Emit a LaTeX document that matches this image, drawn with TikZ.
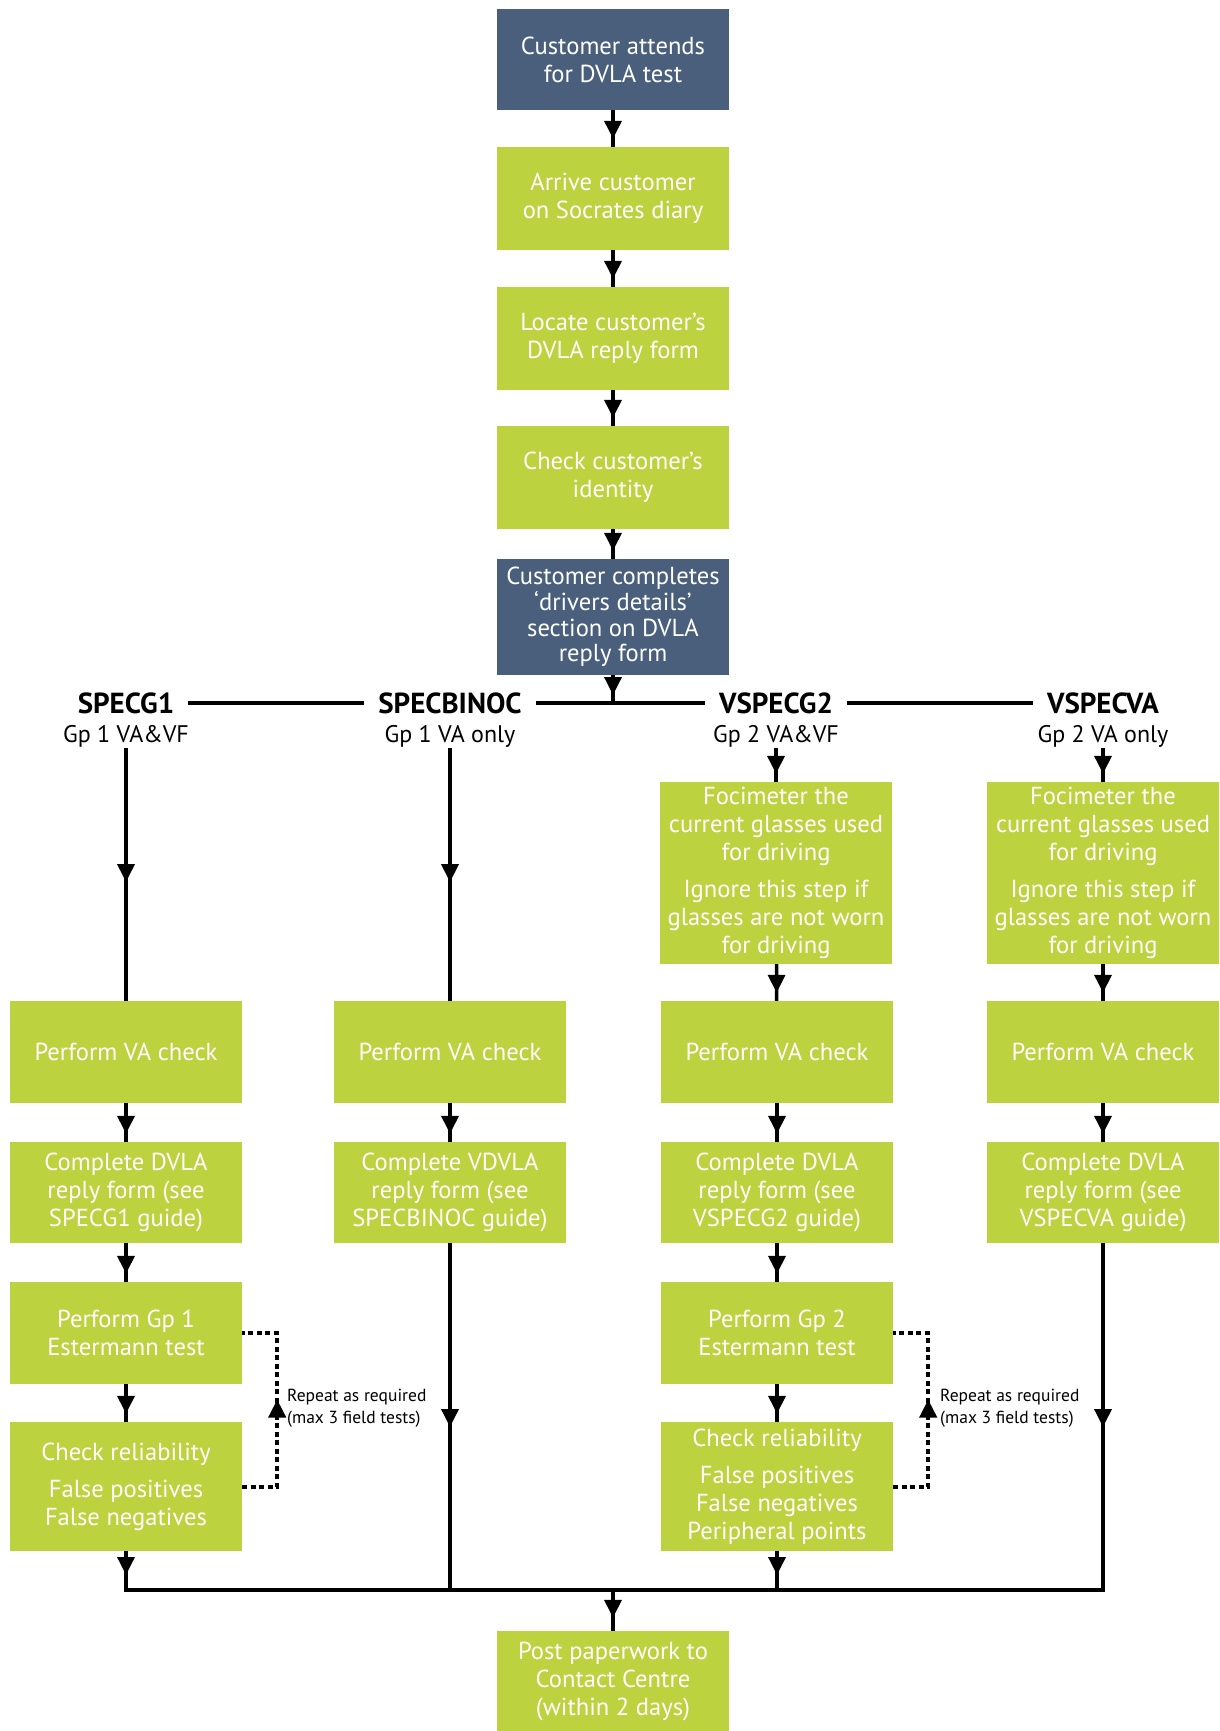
\documentclass[tikz,border=0pt]{standalone}
\usepackage{fontspec}
\setmainfont{PT Sans}
\usepackage{tikz}
\usetikzlibrary{arrows.meta,decorations.markings,calc}
\definecolor{slate}{RGB}{73,95,124}
\definecolor{lime}{RGB}{188,210,63}

\begin{document}
\begin{tikzpicture}[x=1pt,y=-1pt,
  box/.style={fill=lime,text=white,align=center,minimum width=232pt,inner sep=0pt,font=\fontsize{24.6}{28}\selectfont},
  darkbox/.style={box,fill=slate},
  colhead/.style={font=\bfseries\fontsize{29}{32}\selectfont,inner xsep=14pt,inner ysep=1pt},
  colsub/.style={font=\fontsize{24}{27}\selectfont,inner sep=1pt},
  note/.style={font=\fontsize{17.5}{22}\selectfont,align=left,anchor=west,inner sep=0pt},
  wire/.style={line width=3.5pt},
  busline/.style={line width=4.5pt,line cap=rect},
  dots/.style={line width=4pt,dash pattern=on 5pt off 3.5pt},
  flowtip/.style={postaction={decorate,decoration={markings,mark=at position #1 with {\arrow{Triangle[width=17pt,length=18pt]}}}}},
  flowtip/.default=-8pt]
\useasboundingbox (0,0) rectangle (1219,1731);

% main column
\node[darkbox,minimum height=101pt] (attend) at (613,59.5) {Customer attends\\for DVLA test};
\node[box,minimum height=103pt] (arrive) at (613,198.5) {Arrive customer\\on Socrates diary};
\node[box,minimum height=103pt] (locate) at (613,338.5) {Locate customer’s\\DVLA reply form};
\node[box,minimum height=103pt] (identity) at (613,477.5) {Check customer’s\\identity};
\node[darkbox,minimum height=116pt,font=\fontsize{24.6}{25.7}\selectfont] (completes) at (613,617) {Customer completes\\‘drivers details’\\section on DVLA\\reply form};

% column headings
\node[colhead] (specg1) at (126,703) {SPECG1};
\node[colhead] (specbinoc) at (450,703) {SPECBINOC};
\node[colhead] (vspecg2) at (776,703) {VSPECG2};
\node[colhead] (vspecva) at (1103,703) {VSPECVA};
\node[colsub] (gp1vf) at (126,736) {Gp 1 VA\&VF};
\node[colsub] (gp1va) at (450,736) {Gp 1 VA only};
\node[colsub] (gp2vf) at (776,736) {Gp 2 VA\&VF};
\node[colsub] (gp2va) at (1103,736) {Gp 2 VA only};

% SPECG1
\node[box,minimum height=102pt] (va1) at (126,1052) {Perform VA check};
\node[box,minimum height=101pt] (dvla1) at (126,1192.5) {Complete DVLA\\reply form (see\\SPECG1 guide)};
\node[box,minimum height=102pt] (est1) at (126,1333) {Perform Gp 1\\Estermann test};
\node[box,minimum height=129pt] (rel1) at (126,1486.5) {Check reliability\\[9pt]False positives\\False negatives};

% SPECBINOC
\node[box,minimum height=102pt] (va2) at (450,1052) {Perform VA check};
\node[box,minimum height=101pt] (dvla2) at (450,1192.5) {Complete VDVLA\\reply form (see\\SPECBINOC guide)};

% VSPECG2
\node[box,minimum height=182pt] (foc3) at (776,873) {Focimeter the\\current glasses used\\for driving\\[9pt]Ignore this step if\\glasses are not worn\\for driving};
\node[box,minimum height=102pt] (va3) at (777,1052) {Perform VA check};
\node[box,minimum height=101pt] (dvla3) at (777,1192.5) {Complete DVLA\\reply form (see\\VSPECG2 guide)};
\node[box,minimum height=102pt] (est3) at (777,1333) {Perform Gp 2\\Estermann test};
\node[box,minimum height=129pt] (rel3) at (777,1486.5) {Check reliability\\[9pt]False positives\\False negatives\\Peripheral points};

% VSPECVA
\node[box,minimum height=182pt] (foc4) at (1103,873) {Focimeter the\\current glasses used\\for driving\\[9pt]Ignore this step if\\glasses are not worn\\for driving};
\node[box,minimum height=102pt] (va4) at (1103,1052) {Perform VA check};
\node[box,minimum height=101pt] (dvla4) at (1103,1192.5) {Complete DVLA\\reply form (see\\VSPECVA guide)};

\node[note] (repeat1) at (287,1408) {Repeat as required\\(max 3 field tests)};
\node[note] (repeat3) at (940,1408) {Repeat as required\\(max 3 field tests)};

\coordinate (bus) at (613,1590);
\node[box,minimum height=101pt] (post) at (613,1681.5) {Post paperwork to\\Contact Centre\\(within 2 days)};

\draw[wire,flowtip] (attend) -- (arrive);
\draw[wire,flowtip] (arrive) -- (locate);
\draw[wire,flowtip] (locate) -- (identity);
\draw[wire,flowtip] (identity) -- (completes);
\draw[wire,flowtip] (completes) -- (completes |- specg1);
\draw[wire] (specg1) -- (specbinoc) -- (vspecg2) -- (vspecva);

\draw[wire,flowtip=0.53] (gp1vf) -- (va1);
\draw[wire,flowtip] (va1) -- (dvla1);
\draw[wire,flowtip] (dvla1) -- (est1);
\draw[wire,flowtip] (est1) -- (rel1);
\draw[wire,flowtip=-15pt] (rel1) -- (rel1 |- bus);
\draw[dots,flowtip=122pt] (rel1.east) -- ++(35,0) |- (est1.east);

\draw[wire,flowtip=0.53] (gp1va) -- (va2);
\draw[wire,flowtip] (va2) -- (dvla2);
\draw[wire,flowtip=0.53] (dvla2) -- (dvla2 |- bus);

\draw[wire,flowtip] (gp2vf) -- (foc3);
\draw[wire,flowtip] (foc3) -- (va3);
\draw[wire,flowtip] (va3) -- (dvla3);
\draw[wire,flowtip] (dvla3) -- (est3);
\draw[wire,flowtip] (est3) -- (rel3);
\draw[wire,flowtip=-15pt] (rel3) -- (rel3 |- bus);
\draw[dots,flowtip=122pt] (rel3.east) -- ++(35,0) |- (est3.east);

\draw[wire,flowtip] (gp2va) -- (foc4);
\draw[wire,flowtip] (foc4) -- (va4);
\draw[wire,flowtip] (va4) -- (dvla4);
\draw[wire,flowtip=0.53] (dvla4) -- (dvla4 |- bus);

\draw[busline] (rel1 |- bus) -- (dvla4 |- bus);
\draw[wire,flowtip=-13pt] (bus) -- (post);
\end{tikzpicture}
\end{document}
